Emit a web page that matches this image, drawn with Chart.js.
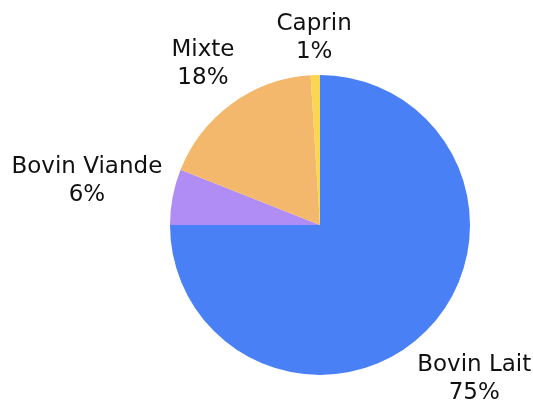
<!DOCTYPE html>
<html>
<head>
<meta charset="utf-8">
<script src="https://cdn.jsdelivr.net/npm/chart.js@4"></script>
<style>
  html, body { margin: 0; padding: 0; background: #fff; }
  #wrap { width: 533px; height: 401px; }
</style>
</head>
<body>
<div id="wrap"><canvas id="pie-chart" width="533" height="401"></canvas></div>
<script>
// Chart data
const categories = ['Bovin Lait', 'Bovin Viande', 'Mixte', 'Caprin'];
const shares = [75, 6, 18, 1];
const sliceColors = ['#4a80f6', '#b08cf5', '#f3b86c', '#fcd650'];

const labelFont = '23px "DejaVu Sans"';
const lineHeight = 28;

// Draw the name + percentage outside each slice
const outsideLabels = {
    id: 'outsideLabels',
    afterDatasetsDraw(chart) {
        const ctx = chart.ctx;
        const meta = chart.getDatasetMeta(0);
        ctx.save();
        ctx.font = labelFont;
        ctx.fillStyle = '#111';
        ctx.textAlign = 'center';
        ctx.textBaseline = 'middle';
        meta.data.forEach((arc, i) => {
            const p = arc.getProps(['x', 'y', 'startAngle', 'endAngle', 'outerRadius'], true);
            const mid = (p.startAngle + p.endAngle) / 2;
            const cos = Math.cos(mid), sin = Math.sin(mid);
            const lines = [categories[i], shares[i] + '%'];
            const w = Math.max(...lines.map(t => ctx.measureText(t).width));
            const h = lines.length * lineHeight;
            const half = Math.abs(cos) * w / 2 + Math.abs(sin) * h / 2;
            const dist = p.outerRadius + 8 + half;
            const cx = p.x + cos * dist;
            const cy = p.y + sin * dist;
            lines.forEach((t, k) => {
                ctx.fillText(t, cx, cy - h / 2 + lineHeight * (k + 0.5));
            });
        });
        ctx.restore();
    }
};

const ctx1 = document.getElementById('pie-chart').getContext('2d');
new Chart(ctx1, {
    type: 'pie',
    data: {
        labels: categories,
        datasets: [{
            data: shares,
            backgroundColor: sliceColors,
            borderWidth: 0
        }]
    },
    options: {
        responsive: false,
        animation: false,
        layout: {
            padding: { top: 75, bottom: 26, left: 170, right: 63 }
        },
        plugins: {
            legend: { display: false },
            tooltip: { enabled: false }
        }
    },
    plugins: [outsideLabels]
});
</script>
</body>
</html>
